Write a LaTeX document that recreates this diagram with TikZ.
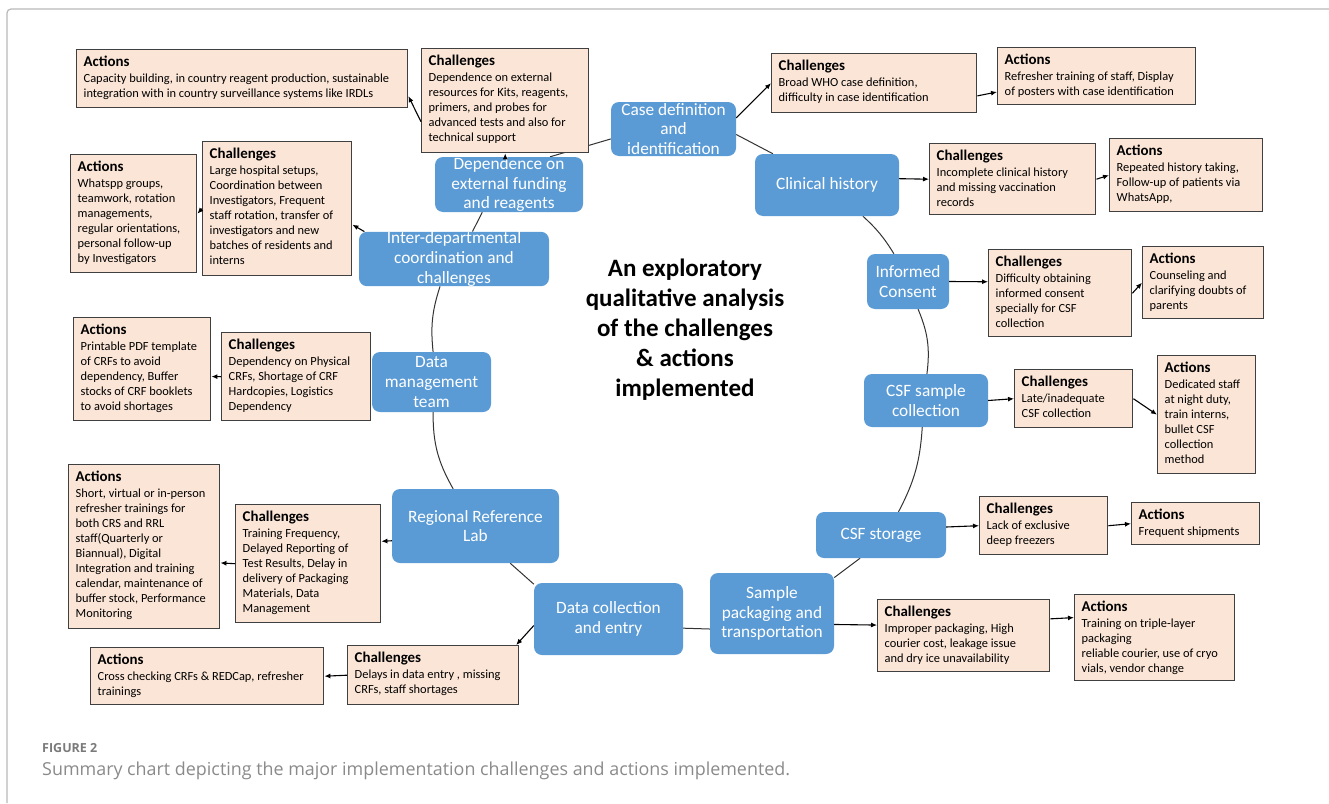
\documentclass[tikz,border=0pt]{standalone}
\usepackage{fontspec}
\setmainfont{Carlito}
\newfontfamily\capfont{Open Sans}
\usetikzlibrary{arrows.meta}
\definecolor{nodeblue}{HTML}{5B9BD5}
\definecolor{peach}{HTML}{FBE5D6}
\definecolor{boxline}{HTML}{404040}
\definecolor{capgray}{HTML}{8A8A8A}
\definecolor{figgray}{HTML}{7A7A7A}
\definecolor{framegray}{HTML}{B8B8B8}
\pgfdeclarelayer{bg}
\pgfsetlayers{bg,main}
\tikzset{
  bnode/.style={fill=nodeblue, rounded corners=8pt, text=white, align=center,
    font=\fontsize{17.3}{19.7}\selectfont, inner sep=0pt},
  pbox/.style={fill=peach, draw=boxline, line width=1.4pt, inner sep=0pt, anchor=north west},
  link/.style={draw=black!80, line width=1pt},
  arr/.style={draw=black, line width=1.1pt, -{Latex[length=6pt,width=5pt]}},
}
\newcommand\mypeach[7]{%
  \pgfmathsetmacro\pw{#4-#2-14}%
  \pgfmathsetmacro\ph{#5-#3-12}%
  \node[pbox, minimum width={#4-#2}, minimum height={#5-#3}] (#1) at (#2,#3)
   {\parbox[c][\ph pt][t]{\pw pt}{\raggedright\fontsize{14.9}{16}\selectfont\bfseries #6\par\vspace{0.8pt}\fontsize{12.4}{15.1}\selectfont\mdseries #7\par}};%
}
\begin{document}
\begin{tikzpicture}[x=1pt,y=-1pt]
\useasboundingbox (0,0) rectangle (1329,803);
% frame
\draw[framegray, line width=1.2pt, rounded corners=4pt] (7,803) -- (7,9) -- (1329,9);

% blue nodes
\node[bnode, minimum width=125, minimum height=54] (casedef) at (673.5,129) {Case definition\\and\\identification};
\node[bnode, minimum width=144, minimum height=62] (clinical) at (827,185) {Clinical history};
\node[bnode, minimum width=82, minimum height=55] (consent) at (908,281.5) {Informed\\Consent};
\node[bnode, minimum width=124, minimum height=53] (csfcoll) at (926,400.5) {CSF sample\\collection};
\node[bnode, minimum width=130, minimum height=46] (csfstor) at (881,535) {CSF storage};
\node[bnode, minimum width=124, minimum height=81] (packag) at (772,613.5) {Sample\\packaging and\\transportation};
\node[bnode, minimum width=149, minimum height=72] (datacoll) at (608.5,619) {Data collection\\and entry};
\node[bnode, minimum width=167, minimum height=74] (reflab) at (475.5,526) {Regional Reference\\Lab};
\node[bnode, minimum width=119, minimum height=60] (datamgmt) at (431.5,382) {Data\\management\\team};
\node[bnode, minimum width=190, minimum height=54] (interdep) at (454,259) {Inter-departmental\\coordination and\\challenges};
\node[bnode, minimum width=148, minimum height=55] (depend) at (509,184.5) {Dependence on\\external funding\\and reagents};

% title
\node[font=\bfseries\fontsize{25}{30}\selectfont, align=center] (title) at (685,330)
  {An exploratory\\qualitative analysis\\of the challenges\\\& actions\\implemented};

% peach boxes
\mypeach{A1}{76}{49}{407}{107}{Actions}{Capacity building, in country reagent production, sustainable\\integration with in country surveillance systems like IRDLs}
\mypeach{C1}{421}{48}{588}{152}{Challenges}{Dependence on external\\resources for Kits, reagents,\\primers, and probes for\\advanced tests and also for\\technical support}
\mypeach{C2}{771}{53}{976}{112}{Challenges}{Broad WHO case definition,\\difficulty in case identification}
\mypeach{A2}{997}{47}{1195}{104}{Actions}{Refresher training of staff, Display\\of posters with case identification}
\mypeach{C3}{929}{143}{1095}{214}{Challenges}{Incomplete clinical history\\and missing vaccination\\records}
\mypeach{A3}{1109}{138}{1262}{211}{Actions}{Repeated history taking,\\Follow-up of patients via\\WhatsApp,}
\mypeach{C4}{988}{249}{1131}{336}{Challenges}{Difficulty obtaining\\informed consent\\specially for CSF\\collection}
\mypeach{A4}{1142}{246}{1263}{318}{Actions}{Counseling and\\clarifying doubts of\\parents}
\mypeach{C5}{1014}{369}{1132}{427}{Challenges}{Late/inadequate\\CSF collection}
\mypeach{A5}{1157}{355}{1255}{473}{Actions}{Dedicated staff\\at night duty,\\train interns,\\bullet CSF\\collection\\method}
\mypeach{C6}{979}{496}{1107}{554}{Challenges}{Lack of exclusive\\deep freezers}
\mypeach{A6}{1131}{502}{1259}{544}{Actions}{Frequent shipments}
\mypeach{C7}{877}{599}{1049}{671}{Challenges}{Improper packaging, High\\courier cost, leakage issue\\and dry ice unavailability}
\mypeach{A7}{1074}{594}{1234}{680}{Actions}{Training on triple-layer\\packaging\\reliable courier, use of cryo\\vials, vendor change}
\mypeach{C8}{347}{645}{518}{704}{Challenges}{Delays in data entry , missing\\CRFs, staff shortages}
\mypeach{A8}{90}{647}{323}{704}{Actions}{Cross checking CRFs \& REDCap, refresher\\trainings}
\mypeach{C9}{235}{504}{380}{622}{Challenges}{Training Frequency,\\Delayed Reporting of\\Test Results, Delay in\\delivery of Packaging\\Materials, Data\\Management}
\mypeach{A9}{68}{464}{219}{628}{Actions}{Short, virtual or in-person\\refresher trainings for\\both CRS and RRL\\staff(Quarterly or\\Biannual), Digital\\Integration and training\\calendar, maintenance of\\buffer stock, Performance\\Monitoring}
\mypeach{C10}{221}{332}{370}{420}{Challenges}{Dependency on Physical\\CRFs, Shortage of CRF\\Hardcopies, Logistics\\Dependency}
\mypeach{A10}{73}{317}{210}{420}{Actions}{Printable PDF template\\of CRFs to avoid\\dependency, Buffer\\stocks of CRF booklets\\to avoid shortages}
\mypeach{C11}{202}{141}{351}{275}{Challenges}{Large hospital setups,\\Coordination between\\Investigators, Frequent\\staff rotation, transfer of\\investigators and new\\batches of residents and\\interns}
\mypeach{A11}{70}{154}{196}{272}{Actions}{Whatspp groups,\\teamwork, rotation\\managements,\\regular orientations,\\personal follow-up\\by Investigators}

% circle links
\begin{pgfonlayer}{bg}
\draw[link] (casedef.-5) -- (clinical.150);
\draw[link] (clinical.-41.5) to[bend left=8] (consent.117);
\draw[link] (consent.-70) to[bend left=15] (csfcoll.88);
\draw[link] (csfcoll.-98.6) to[bend left=12] (csfstor.53.5);
\draw[link] (csfstor.-132.4) -- (packag.30.5);
\draw[link] (packag.-166) -- (datacoll.-7.6);
\draw[link] (datacoll.155) -- (reflab.-47);
\draw[link] (reflab.121.3) to[bend left=15] (datamgmt.-87);
\draw[link] (datamgmt.87) to[bend left=12] (interdep.-117);
\draw[link] (interdep.56) -- (depend.-134.5);
\draw[link] (depend.34.9) -- (casedef.-171.8);
\end{pgfonlayer}

% arrows
\draw[arr] (casedef.10) -- (C2.west);
\draw[arr] (C2.-7.5) -- (A2.-171);
\draw[arr] (clinical.5.6) -- (C3.west);
\draw[arr] (C3.east) -- (A3.west);
\draw[arr] (consent.east) -- (C4.171.6);
\draw[arr] (C4.east) -- (A4.west);
\draw[arr] (csfcoll.east) -- (C5.west);
\draw[arr] (C5.east) -- (A5.west);
\draw[arr] (csfstor.7.9) -- (C6.west);
\draw[arr] (C6.east) -- (A6.west);
\draw[arr] (packag.-10.5) -- (C7.173.4);
\draw[arr] (C7.11.2) -- (A7.166.6);
\draw[arr] (datacoll.-175.4) -- (C8.20.4);
\draw[arr] (C8.west) -- (A8.east);
\draw[arr] (reflab.-170.5) -- (C9.17.6);
\draw[arr] (C9.west) -- (A9.-12.7);
\draw[arr] (C10.west) -- (A10.-6.2);
\draw[arr] (interdep.163.2) -- (C11.-12.1);
\draw[arr] (C11.west) -- (A11.east);
\draw[arr] (C1.south |- depend.north) -- (C1.south);
\draw[arr] (C1.-166.5) -- (A1.-6.2);

% caption
\node[anchor=west, inner sep=0pt, font=\capfont\bfseries\fontsize{12.5}{15}\selectfont, text=figgray] (fig) at (42,748) {FIGURE 2};
\node[anchor=west, inner sep=0pt, font=\capfont\fontsize{17.9}{21}\selectfont, text=capgray] (cap) at (42,771) {Summary chart depicting the major implementation challenges and actions implemented.};
\end{tikzpicture}
\end{document}
